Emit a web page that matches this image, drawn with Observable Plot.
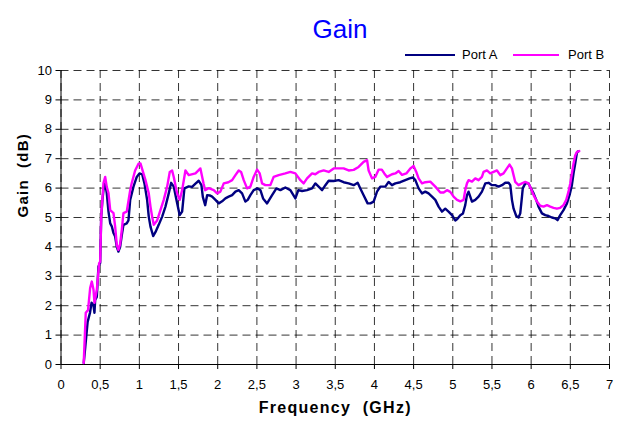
<!DOCTYPE html>
<html>
<head>
<meta charset="utf-8">
<script src="https://cdn.jsdelivr.net/npm/d3@7"></script>
<script src="https://cdn.jsdelivr.net/npm/@observablehq/plot@0.6"></script>
<style>
  html, body { margin: 0; padding: 0; background: #fff; }
  #wrap { position: relative; width: 623px; height: 428px; font-family: "Liberation Sans", Arial, sans-serif; }
  #title { position: absolute; left: 270px; width: 140px; top: 15px; text-align: center; font-size: 26px; line-height: 28px; color: #0000FF; }
  .leg { position: absolute; top: 47px; font-size: 13px; line-height: 16px; color: #000; }
  .legline { position: absolute; top: 54px; height: 2px; }
  #plot { position: absolute; left: 0; top: 64px; }
</style>
</head>
<body>
<div id="wrap">
  <div id="title">Gain</div>
  <div class="legline" style="left:405px;width:50px;background:#000080"></div>
  <div class="leg" style="left:462px">Port A</div>
  <div class="legline" style="left:513px;width:46px;background:#FF00FF"></div>
  <div class="leg" style="left:568px">Port B</div>
  <div id="plot"></div>
</div>
<script>
const xTicks = [0, 0.5, 1, 1.5, 2, 2.5, 3, 3.5, 4, 4.5, 5, 5.5, 6, 6.5, 7];
const yTicks = [0, 1, 2, 3, 4, 5, 6, 7, 8, 9, 10];
const seriesNames = ["Port A", "Port B"];

const freqA = [0.29,0.31,0.34,0.37,0.39,0.415,0.427,0.436,0.457,0.478,0.50,0.513,0.529,0.542,0.564,0.584,0.606,0.628,0.648,0.670,0.691,0.712,0.733,0.755,0.776,0.797,0.839,0.861,0.883,0.925,0.967,1.001,1.036,1.065,1.099,1.120,1.142,1.176,1.205,1.247,1.291,1.333,1.375,1.406,1.439,1.473,1.515,1.546,1.575,1.630,1.673,1.716,1.758,1.792,1.81,1.84,1.865,1.898,1.929,1.971,2.013,2.056,2.098,2.140,2.184,2.226,2.268,2.311,2.353,2.383,2.417,2.459,2.510,2.545,2.579,2.630,2.694,2.749,2.800,2.863,2.927,2.991,3.029,3.077,3.140,3.204,3.246,3.288,3.332,3.374,3.416,3.480,3.543,3.607,3.671,3.735,3.786,3.820,3.862,3.913,3.948,3.990,4.033,4.075,4.139,4.181,4.224,4.267,4.330,4.394,4.449,4.492,4.522,4.564,4.607,4.649,4.691,4.735,4.777,4.819,4.862,4.904,4.946,4.99,5.032,5.057,5.096,5.13,5.159,5.181,5.201,5.223,5.245,5.287,5.329,5.372,5.415,5.457,5.5,5.542,5.584,5.628,5.67,5.712,5.734,5.755,5.776,5.81,5.839,5.861,5.883,5.893,5.925,5.967,5.997,6.031,6.065,6.094,6.138,6.18,6.222,6.265,6.307,6.337,6.371,6.413,6.457,6.49,6.52,6.541,6.563,6.584,6.60];
const gainA = [0.05,0.6,1.45,1.76,2.1,2.0,1.76,2.2,2.3,3.33,3.45,5.0,5.6,5.93,6.17,5.83,5.2,4.8,4.7,4.47,4.35,4.0,3.84,4.0,4.4,4.75,4.8,4.9,5.6,6.05,6.38,6.5,6.47,6.16,5.6,5.03,4.69,4.37,4.5,4.75,5.03,5.37,5.82,6.18,6.05,5.6,5.08,5.2,5.99,6.06,6.04,6.15,6.25,6.1,5.7,5.42,5.76,5.75,5.71,5.6,5.48,5.55,5.65,5.71,5.76,5.88,5.93,5.82,5.54,5.6,5.76,5.93,5.99,5.93,5.65,5.48,5.76,5.99,5.93,6.02,5.93,5.65,5.93,5.9,5.93,5.99,6.16,6.05,5.93,6.1,6.25,6.24,6.27,6.2,6.16,6.1,6.18,5.99,5.76,5.48,5.48,5.54,5.88,6.05,6.05,6.21,6.1,6.16,6.2,6.27,6.33,6.36,6.27,5.99,5.82,5.88,5.82,5.71,5.6,5.37,5.2,5.3,5.2,5.08,4.9,4.95,5.08,5.14,5.42,5.76,5.88,5.71,5.54,5.6,5.71,5.88,6.16,6.18,6.1,6.1,6.05,6.1,6.18,6.18,6.1,5.6,5.3,5.05,5.0,5.14,5.71,5.99,6.16,6.16,5.99,5.82,5.6,5.37,5.14,5.08,5.05,5.0,4.97,4.91,5.08,5.25,5.48,5.76,6.1,6.5,6.84,7.2,7.25];

const freqB = [0.29,0.316,0.345,0.372,0.393,0.415,0.427,0.457,0.487,0.500,0.513,0.542,0.564,0.584,0.606,0.628,0.670,0.691,0.712,0.733,0.755,0.776,0.797,0.839,0.883,0.903,0.946,0.989,1.014,1.078,1.120,1.142,1.163,1.184,1.227,1.269,1.311,1.355,1.388,1.418,1.439,1.482,1.515,1.546,1.588,1.630,1.716,1.779,1.82,1.84,1.885,1.949,1.992,2.034,2.077,2.136,2.184,2.226,2.268,2.298,2.332,2.375,2.417,2.459,2.503,2.536,2.566,2.608,2.672,2.714,2.778,2.863,2.927,2.991,3.055,3.097,3.140,3.204,3.246,3.288,3.352,3.416,3.480,3.543,3.607,3.671,3.735,3.798,3.862,3.906,3.926,3.969,4.011,4.054,4.094,4.126,4.161,4.224,4.267,4.309,4.352,4.407,4.458,4.500,4.534,4.564,4.607,4.649,4.713,4.777,4.841,4.883,4.926,4.968,5.010,5.054,5.096,5.138,5.159,5.181,5.201,5.245,5.287,5.329,5.372,5.393,5.436,5.478,5.520,5.564,5.606,5.648,5.691,5.724,5.755,5.797,5.839,5.883,5.925,5.967,5.997,6.031,6.074,6.116,6.158,6.202,6.244,6.286,6.329,6.371,6.413,6.448,6.477,6.499,6.520,6.541,6.563,6.584,6.614];
const gainB = [0.05,1.76,1.85,2.6,2.82,2.54,2.1,2.54,3.45,3.5,5.03,6.17,6.38,6.04,5.83,5.25,5.15,4.69,4.07,3.9,4.1,4.58,5.15,5.2,5.93,6.17,6.6,6.83,6.84,6.27,5.82,5.37,5.03,4.75,4.9,5.25,5.6,6.05,6.55,6.6,6.38,5.82,5.6,5.93,6.6,6.44,6.5,6.67,6.15,5.93,6.0,5.93,5.82,5.88,6.16,6.2,6.27,6.44,6.6,6.55,6.27,5.99,6.05,6.38,6.63,6.5,6.16,6.1,6.1,6.38,6.44,6.5,6.55,6.5,6.27,6.16,6.33,6.5,6.47,6.55,6.6,6.55,6.67,6.67,6.67,6.6,6.62,6.72,6.89,6.95,6.6,6.33,6.38,6.63,6.63,6.5,6.38,6.47,6.5,6.58,6.45,6.5,6.67,6.75,6.55,6.33,6.16,6.2,6.22,6.05,5.85,5.85,5.93,5.87,5.71,5.6,5.55,5.6,5.93,6.16,6.27,6.22,6.33,6.27,6.38,6.55,6.6,6.5,6.55,6.6,6.44,6.5,6.67,6.8,6.67,6.21,6.1,6.16,6.21,6.16,5.99,5.76,5.54,5.4,5.37,5.42,5.37,5.33,5.3,5.33,5.42,5.6,5.88,6.16,6.5,6.84,7.12,7.23,7.26];

const dataA = freqA.map((f, i) => ({f, g: gainA[i], s: seriesNames[0]}));
const dataB = freqB.map((f, i) => ({f, g: gainB[i], s: seriesNames[1]}));

const font = "'Liberation Sans', Arial, sans-serif";
const chart = Plot.plot({
  width: 623,
  height: 364,
  marginTop: 6,
  marginBottom: 64,
  marginLeft: 60.5,
  marginRight: 14,
  x: {domain: [0, 7]},
  y: {domain: [0, 10]},
  style: {fontFamily: font, fontSize: "13px", color: "#000", background: "#fff", overflow: "visible"},
  marks: [
    Plot.gridX(xTicks, {stroke: "#000", strokeOpacity: 0.8, strokeWidth: 1, strokeDasharray: "8,5"}),
    Plot.gridY(yTicks, {stroke: "#000", strokeOpacity: 0.8, strokeWidth: 1, strokeDasharray: "8,5"}),
    Plot.axisX(xTicks, {tickSize: 5, tickPadding: 10, tickFormat: d => String(d).replace(".", ","), label: null, fontSize: 13}),
    Plot.axisY(yTicks, {tickSize: 5, tickPadding: 4, label: null, fontSize: 13}),
    Plot.ruleX([0], {stroke: "#000", strokeWidth: 1}),
    Plot.ruleY([0], {stroke: "#000", strokeWidth: 1}),
    Plot.line(dataA, {x: "f", y: "g", stroke: "#000080", strokeWidth: 2.4}),
    Plot.line(dataB, {x: "f", y: "g", stroke: "#FF00FF", strokeWidth: 2.4}),
    Plot.text(["Frequency\u00a0 (GHz)"], {frameAnchor: "bottom", dy: 48, fontWeight: "bold", fontSize: 16, fill: "#000"}),
    Plot.text(["Gain\u00a0 (dB)"], {frameAnchor: "left", dx: -38, rotate: -90, fontWeight: "bold", fontSize: 15, fill: "#000"})
  ]
});
chart.querySelectorAll("text").forEach(t => {
  if (t.textContent.startsWith("Frequency") || t.textContent.startsWith("Gain")) t.style.letterSpacing = "1.3px";
});
document.getElementById("plot").appendChild(chart);
</script>
</body>
</html>
